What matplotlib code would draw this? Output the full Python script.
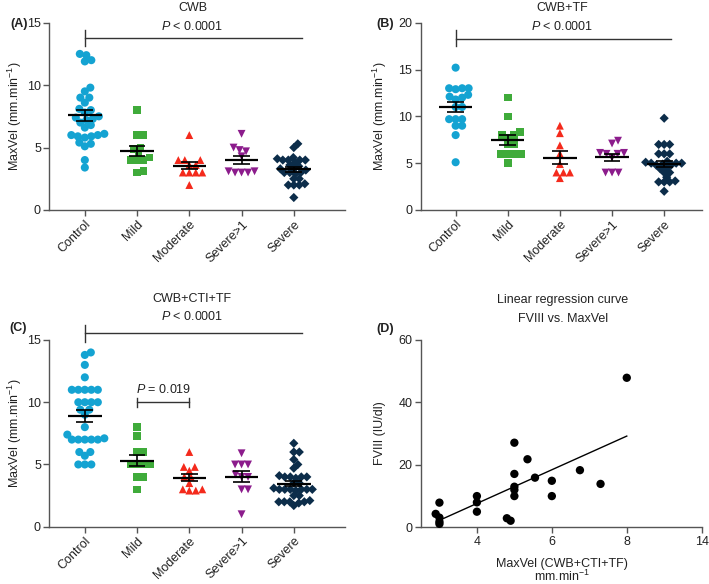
import numpy as np
import matplotlib
matplotlib.use("Agg")
import matplotlib.pyplot as plt

plt.rcParams["font.family"] = ["Liberation Sans", "DejaVu Sans"]
plt.rcParams["mathtext.fontset"] = "custom"
plt.rcParams["mathtext.rm"] = "Liberation Sans"
plt.rcParams["mathtext.it"] = "Liberation Sans:italic"
plt.rcParams["axes.unicode_minus"] = True

groups = ["Control", "Mild", "Moderate", "Severe>1", "Severe"]

# (A) CWB
cwb_control = [12.4, 11.9, 12.0, 12.5, 9.8, 9.5, 9.0, 9.0, 8.6, 8.1, 8.0, 7.8, 7.5, 7.4, 7.3,
               7.2, 7.0, 6.8, 6.6, 6.1, 6.0, 5.9, 5.9, 5.8, 6.0, 5.4, 5.3, 5.1, 4.0, 3.4]
cwb_mild = [8.0, 6.0, 6.0, 5.0, 4.9, 4.5, 4.2, 4.0, 4.0, 4.0, 3.1, 3.0]
cwb_moderate = [6.0, 4.0, 4.0, 4.0, 3.6, 3.6, 3.0, 3.0, 3.0, 3.0, 2.0]
cwb_sev1 = [6.1, 5.0, 4.8, 4.7, 4.3, 3.1, 3.0, 3.0, 3.0, 3.1]
cwb_severe = [5.3, 5.0, 4.2, 4.0, 4.0, 4.0, 4.0, 4.1, 3.8, 3.6, 3.5, 3.3, 3.3, 3.2,
              3.0, 3.0, 3.0, 2.9, 2.5, 2.5, 2.0, 2.0, 2.0, 2.1, 1.0]

# (B) CWB+TF
tf_control = [15.2, 13.0, 13.0, 13.0, 12.9, 12.3, 12.0, 11.8, 12.1, 11.0, 11.0,
              9.7, 9.7, 9.7, 9.0, 9.0, 8.0, 5.1]
tf_mild = [12.0, 10.0, 8.3, 8.0, 8.0, 7.7, 7.0, 7.0, 6.0, 6.0, 6.0, 6.0, 5.0]
tf_moderate = [9.0, 8.2, 6.9, 6.0, 4.9, 4.0, 4.0, 4.0, 3.4]
tf_sev1 = [7.4, 7.1, 6.1, 6.1, 6.0, 6.0, 5.6, 4.0, 4.0, 4.0]
tf_severe = [9.8, 7.0, 7.0, 7.0, 6.0, 6.0, 6.0, 5.1, 5.0, 5.0, 4.9, 5.2, 4.8, 5.0,
             4.8, 4.5, 4.4, 4.0, 4.0, 3.5, 3.0, 3.0, 3.0, 3.1, 2.0]

# (C) CWB+CTI+TF
cti_control = [14.0, 13.8, 13.0, 12.0, 11.0, 11.0, 11.0, 11.0, 11.0, 10.0, 10.0, 10.0, 10.0,
               9.4, 9.4, 9.0, 8.0, 7.4, 7.0, 7.0, 7.0, 7.0, 7.0, 7.1, 6.0, 6.0, 5.7,
               5.0, 5.0, 5.0]
cti_mild = [8.0, 7.3, 6.0, 6.0, 5.0, 5.0, 5.0, 5.0, 4.0, 4.0, 3.0]
cti_moderate = [6.0, 4.8, 4.8, 4.5, 4.0, 4.0, 3.5, 3.0, 3.0, 2.9, 2.9]
cti_sev1 = [5.9, 5.0, 5.0, 5.0, 4.2, 4.0, 4.0, 3.0, 3.0, 1.0]
cti_severe = [6.7, 6.0, 6.0, 5.4, 5.0, 4.7, 4.0, 4.0, 4.0, 4.0, 4.1, 3.9, 3.5, 3.5,
              3.0, 3.0, 3.0, 3.0, 3.1, 2.9, 3.0, 3.0, 2.5, 2.5, 2.0, 2.0, 2.0, 2.0,
              2.1, 1.9, 1.7]

# (D) FVIII vs MaxVel
reg_maxvel = [2.9, 3.0, 3.0, 3.0, 3.0, 4.0, 4.0, 4.0, 5.0, 5.0, 5.0, 5.0, 5.0,
              4.8, 4.9, 5.35, 5.55, 6.0, 6.0, 6.75, 7.3, 8.0]
reg_fviii = [4.3, 7.9, 3.1, 1.8, 1.1, 10.0, 8.0, 5.0, 27.1, 17.1, 13.0, 12.0, 10.0,
             2.9, 2.1, 21.8, 15.9, 14.9, 10.0, 18.3, 13.9, 47.9]

colors = ["#14a3d2", "#3fab3a", "#f42a1c", "#8c1c8c", "#0c2d4a"]
markers = ["o", "s", "^", "v", "D"]
msizes = [34, 30, 32, 32, 22]
spacing = [6.4, 6.4, 6.4, 6.4, 5.2]

W, H = 709, 584
fig = plt.figure(figsize=(W / 100, H / 100), dpi=100)
FS = 9
SPINE = "#555555"
TXT = "#222222"


def px_axes(l, t, r, b):
    return fig.add_axes([l / W, 1 - b / H, (r - l) / W, (b - t) / H])


def ftext(x, y, s, **kw):
    kw.setdefault("fontsize", FS)
    kw.setdefault("color", TXT)
    kw.setdefault("ha", "center")
    kw.setdefault("va", "center")
    fig.text(x / W, 1 - y / H, s, **kw)


def style(ax):
    for s in ["top", "right"]:
        ax.spines[s].set_visible(False)
    for s in ["left", "bottom"]:
        ax.spines[s].set_color(SPINE)
        ax.spines[s].set_linewidth(1.0)
    ax.tick_params(direction="out", length=4, width=1.0, color=SPINE,
                   labelsize=FS, labelcolor=TXT, pad=2)


def swarm_x(ax, xc, vals, d):
    # simple beeswarm in pixel space
    trans = ax.transData
    pix = trans.transform(np.column_stack([np.full(len(vals), xc), vals]))
    placed = []
    offs = np.zeros(len(vals))
    for i in np.argsort(vals, kind="stable"):
        py = pix[i, 1]
        best = 0.0
        for k in range(400):
            ok = False
            for sgn in (1, -1):
                dx = sgn * k * 0.5
                if all((dx - qx) ** 2 + (py - qy) ** 2 >= d * d for qx, qy in placed):
                    best = dx
                    ok = True
                    break
            if ok:
                break
        placed.append((best, py))
        offs[i] = best
    back = trans.inverted().transform(np.column_stack([pix[:, 0] + offs, pix[:, 1]]))
    return back[:, 0]


def strip_panel(ax, data, xlim, ymax, ystep):
    ax.set_xlim(*xlim)
    ax.set_ylim(0, ymax)
    for i, vals in enumerate(data):
        v = np.array(vals, dtype=float)
        xs = swarm_x(ax, i, v, spacing[i])
        ax.scatter(xs, v, s=msizes[i], marker=markers[i], color=colors[i],
                   edgecolors="none", zorder=2, clip_on=False)
        m = v.mean()
        se = v.std(ddof=1) / np.sqrt(len(v))
        ax.hlines(m, i - 0.32, i + 0.32, color="black", lw=1.6, zorder=3)
        ax.vlines(i, m - se, m + se, color="black", lw=1.2, zorder=3)
        ax.hlines([m - se, m + se], i - 0.16, i + 0.16, color="black", lw=1.2, zorder=3)
    ax.set_xticks(range(len(groups)))
    ax.set_xticklabels(groups, rotation=45, ha="right", va="top",
                       rotation_mode="anchor")
    ax.set_yticks(np.arange(0, ymax + 0.01, ystep))
    style(ax)


def bracket(ax, x0, x1, y, lo, hi, both=False):
    kw = dict(color="#333333", lw=1.0, clip_on=False, zorder=4)
    ax.plot([x0, x1], [y, y], **kw)
    ax.plot([x0, x0], [lo, hi], **kw)
    if both:
        ax.plot([x1, x1], [lo, hi], **kw)


ylab = "MaxVel (mm.min$^{-1}$)"

# (A)
axA = px_axes(49.3, 22.7, 345, 210)
strip_panel(axA, [cwb_control, cwb_mild, cwb_moderate, cwb_sev1, cwb_severe],
            (-0.68, 4.98), 15, 5)
bracket(axA, 0, 4.15, 13.75, 13.1, 14.4)
ftext(193, 8, "CWB")
ftext(192, 26, "$\\it{P}$ < 0.0001")
ftext(15, 116, ylab, rotation=90)
ftext(10, 24, "(A)", fontweight="bold", ha="left")

# (B)
axB = px_axes(420.7, 22.7, 701.7, 210)
strip_panel(axB, [tf_control, tf_mild, tf_moderate, tf_sev1, tf_severe],
            (-0.67, 4.72), 20, 5)
bracket(axB, 0, 4.14, 18.3, 17.5, 19.2)
ftext(562, 8, "CWB+TF")
ftext(562, 26, "$\\it{P}$ < 0.0001")
ftext(380, 116, ylab, rotation=90)
ftext(376, 24, "(B)", fontweight="bold", ha="left")

# (C)
axC = px_axes(49.3, 340, 345, 526.7)
strip_panel(axC, [cti_control, cti_mild, cti_moderate, cti_sev1, cti_severe],
            (-0.68, 4.98), 15, 5)
bracket(axC, 0, 4.15, 15.55, 14.87, 16.2)
bracket(axC, 1, 2, 10.0, 9.65, 10.35, both=True)
ftext(192, 299, "CWB+CTI+TF")
ftext(192, 317, "$\\it{P}$ < 0.0001")
ftext(163.5, 389.5, "$\\it{P}$ = 0.019")
ftext(15, 433, ylab, rotation=90)
ftext(9, 328, "(C)", fontweight="bold", ha="left")

# (D)
axD = px_axes(420.7, 340, 701.7, 527.3)


def fwd(x):
    x = np.asarray(x, dtype=float)
    return np.where(x <= 8, x, 8 + (x - 8) / 3.0)


def inv(y):
    y = np.asarray(y, dtype=float)
    return np.where(y <= 8, y, 8 + (y - 8) * 3.0)


axD.set_xscale("function", functions=(fwd, inv))
axD.set_xlim(2.5, 14)
axD.set_ylim(0, 60)
rx = np.array(reg_maxvel)
ry = np.array(reg_fviii)
axD.scatter(rx, ry, s=36, color="black", edgecolors="none", zorder=3, clip_on=False)
slope, icpt = np.polyfit(rx, ry, 1)
xl = np.array([3.0, 8.0])
axD.plot(xl, slope * xl + icpt, color="black", lw=1.0, zorder=2)
axD.set_xticks([4, 6, 8, 14])
axD.set_xticklabels(["4", "6", "8", "14"])
axD.xaxis.set_minor_locator(matplotlib.ticker.NullLocator())
axD.set_yticks([0, 20, 40, 60])
style(axD)
ftext(563, 299.5, "Linear regression curve")
ftext(563, 319, "FVIII vs. MaxVel")
ftext(562, 563.5, "MaxVel (CWB+CTI+TF)")
ftext(562, 576, "mm.min$^{-1}$")
ftext(380, 433, "FVIII (IU/dl)", rotation=90)
ftext(376, 329, "(D)", fontweight="bold", ha="left")

fig.savefig("out.png", dpi=100)
